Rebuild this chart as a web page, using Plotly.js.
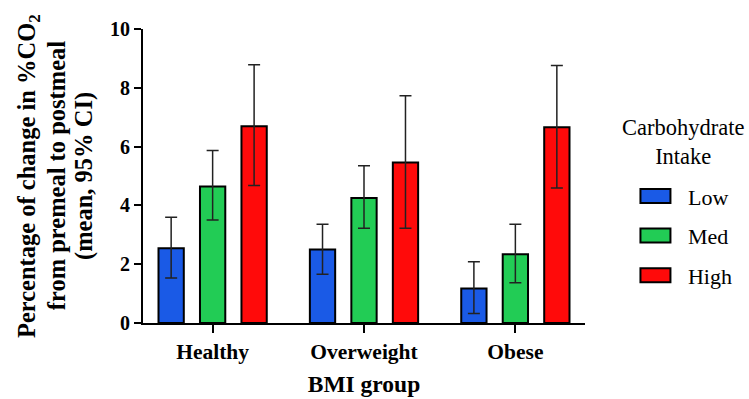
<!DOCTYPE html>
<html>
<head>
<meta charset="utf-8">
<script src="https://cdn.plot.ly/plotly-3.0.1.min.js"></script>
<style>html,body{margin:0;padding:0;background:#fff;}</style>
</head>
<body>
<div id="chart" style="width:749px;height:399px;"></div>
<script>
const groups = ["Healthy", "Overweight", "Obese"];
const seriesNames = ["Low", "Med", "High"];
const colors = ["#1a5ae6", "#22cc55", "#ff0a0a"];
const lowMean = [2.54, 2.50, 1.17];
const lowUpper = [3.60, 3.36, 2.08];
const lowLower = [1.53, 1.66, 0.32];
const medMean = [4.64, 4.25, 2.34];
const medUpper = [5.87, 5.35, 3.36];
const medLower = [3.50, 3.22, 1.37];
const highMean = [6.69, 5.46, 6.66];
const highUpper = [8.78, 7.73, 8.76];
const highLower = [4.68, 3.22, 4.59];
const yTitleLines = ["Percentage of change in %CO<sub>2</sub>", "from premeal to postmeal", "(mean, 95% CI)"];
const legendTitle = "Carbohydrate<br>Intake";
const xTitle = "BMI group";

const means = [lowMean, medMean, highMean];
const uppers = [lowUpper, medUpper, highUpper];
const lowers = [lowLower, medLower, highLower];

const traces = seriesNames.map((name, i) => ({
  type: "bar",
  name: name,
  x: groups,
  y: means[i],
  legendgroup: name,
  marker: {color: colors[i], line: {color: "#000", width: 2}},
  error_y: {
    type: "data",
    symmetric: false,
    array: uppers[i].map((u, k) => u - means[i][k]),
    arrayminus: lowers[i].map((l, k) => means[i][k] - l),
    color: "#222",
    thickness: 1.5,
    width: 6
  }
}));

const yTitleX = [-0.2600, -0.1965, -0.1335];
const annotations = yTitleLines.map((t, i) => ({
  text: "<b>" + t + "</b>",
  xref: "paper", yref: "paper",
  x: yTitleX[i], y: 0.5,
  xanchor: "center", yanchor: "middle",
  textangle: -90,
  showarrow: false,
  font: {size: 24.5, family: "Liberation Serif", color: "#000"}
}));
annotations.push({
  text: legendTitle,
  xref: "paper", yref: "paper",
  x: 1.222, y: 0.614, xanchor: "center", yanchor: "middle",
  showarrow: false,
  font: {size: 22.5, family: "Liberation Serif", color: "#000"}
});

const layout = {
  width: 749,
  height: 399,
  margin: {l: 143, r: 164, t: 29, b: 76},
  paper_bgcolor: "#fff",
  plot_bgcolor: "#fff",
  barmode: "group",
  bargap: 0.178,
  bargroupgap: 0.39,
  showlegend: true,
  font: {family: "Liberation Serif, Times New Roman, serif", color: "#000"},
  xaxis: {
    range: [-0.46, 2.46],
    showline: true, linecolor: "#000", linewidth: 2,
    ticks: "outside", ticklen: 8, tickwidth: 2, tickcolor: "#000",
    tickfont: {size: 21.5, family: "Liberation Serif", weight: "bold"},
    showgrid: false, zeroline: false,
    title: {text: "<b>" + xTitle + "</b>", font: {size: 23.5, family: "Liberation Serif"}, standoff: 13}
  },
  yaxis: {
    range: [0, 10],
    tickvals: [0, 2, 4, 6, 8, 10],
    showline: true, linecolor: "#000", linewidth: 2,
    ticks: "outside", ticklen: 7, tickwidth: 2, tickcolor: "#000",
    tickfont: {size: 20, family: "Liberation Serif", weight: "bold"},
    showgrid: false, zeroline: false
  },
  legend: {
    x: 1.113, xanchor: "left",
    y: 0.297, yanchor: "middle",
    font: {size: 22, family: "Liberation Serif"},
    tracegroupgap: 8,
    traceorder: "grouped",
    itemwidth: 43,
    bgcolor: "rgba(0,0,0,0)"
  },
  annotations: annotations
};

Plotly.newPlot("chart", traces, layout, {displayModeBar: false, staticPlot: true}).then(() => {
  document.querySelectorAll(".legendpoints path").forEach(p => {
    p.setAttribute("d", "M9,7H-21V-7H9Z");
  });
});
</script>
</body>
</html>
